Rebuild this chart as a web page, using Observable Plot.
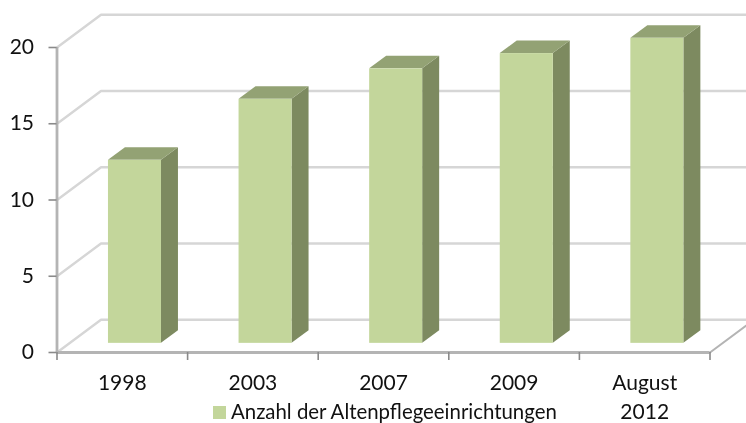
<!DOCTYPE html>
<html><head><meta charset="utf-8">
<script src="https://cdn.jsdelivr.net/npm/d3@7"></script>
<script src="https://cdn.jsdelivr.net/npm/@observablehq/plot@0.6"></script>
<style>
html,body{margin:0;padding:0;background:#fff;overflow:hidden}
#wrap{position:relative;width:746px;height:423px;font-family:Lato,sans-serif}
#wrap svg{display:block;filter:blur(0.45px)}
#legend{position:absolute;left:213px;top:400px;display:flex;align-items:center;font-size:20.4px;color:#111;line-height:22px;white-space:nowrap;filter:blur(0.3px)}
#legend i{display:inline-block;width:13px;height:13px;background:#c3d69b;margin-right:5px;position:relative;top:1px}
</style></head><body>
<div id="wrap"><div id="legend"><i></i><span>Anzahl der Altenpflegeeinrichtungen</span></div></div>
<script>
const categories = ["1998", "2003", "2007", "2009", "August\n2012"];
const values = [12, 16, 18, 19, 20];
const yTicks = [0, 5, 10, 15, 20];

// projection of the 3-D look, expressed in scale units
const wallX = 0.337, wallY = 2.15;      // depth of the floor
const barL = 0.394, barR = 0.80;        // front face within a category band
const sideX = 0.13, sideY = 0.83;       // depth of a bar
const liftY = 0.6;                      // front of a bar above the axis line

const bars = categories.map((c, i) => ({c, i, v: values[i]}));
const gridPts = yTicks.flatMap(v => [
  {v, x: 0, y: v},
  {v, x: wallX, y: v + wallY},
  {v, x: categories.length + wallX, y: v + wallY}
]);
const floorEdge = [{x: categories.length, y: 0}, {x: categories.length + wallX, y: wallY}];

const sidePts = bars.flatMap(b => [
  {b: b.i, x: b.i + barR, y1: liftY, y2: b.v + liftY},
  {b: b.i, x: b.i + barR + sideX, y1: liftY + sideY, y2: b.v + liftY + sideY}
]);
const topPts = bars.flatMap(b => [
  {b: b.i, y: b.v + liftY, x1: b.i + barL, x2: b.i + barR},
  {b: b.i, y: b.v + liftY + sideY, x1: b.i + barL + sideX, x2: b.i + barR + sideX}
]);

const chart = Plot.plot({
  width: 746, height: 423,
  marginLeft: 56.5, marginRight: 36.5, marginTop: 47, marginBottom: 71,
  style: {background: "transparent", fontFamily: "Lato, sans-serif"},
  x: {type: "linear", domain: [0, categories.length]},
  y: {type: "linear", domain: [0, 20]},
  marks: [
    Plot.line(gridPts, {x: "x", y: "y", z: "v", stroke: "#d6d6d6", strokeWidth: 2.4}),
    Plot.line(floorEdge, {x: "x", y: "y", stroke: "#b4b4b4", strokeWidth: 2}),
    Plot.ruleX([0], {stroke: "#b4b4b4", strokeWidth: 2.8}),
    Plot.ruleY([0], {stroke: "#b4b4b4", strokeWidth: 2.8}),
    Plot.axisY({ticks: yTicks, tickSize: 8, tickPadding: 15, fontSize: 21, stroke: "#8a8a8a", strokeWidth: 1.6, color: "#111", label: null}),
    Plot.axisX({ticks: d3.range(categories.length + 1), tickSize: 8, tickFormat: () => "", stroke: "#8a8a8a", strokeWidth: 1.6, label: null}),
    Plot.areaY(sidePts, {x: "x", y1: "y1", y2: "y2", z: "b", fill: "#7d8a60", curve: "linear"}),
    Plot.areaX(topPts, {y: "y", x1: "x1", x2: "x2", z: "b", fill: "#93a274", curve: "linear"}),
    Plot.rect(bars, {x1: d => d.i + barL, x2: d => d.i + barR, y1: liftY, y2: d => d.v + liftY, fill: "#c3d69b"}),
    Plot.text(bars, {x: d => d.i + 0.5, y: 0, text: "c", lineAnchor: "top", dy: 18, fontSize: 21, lineHeight: 1.34, fill: "#111"})
  ]
});
document.getElementById("wrap").prepend(chart);
</script>
</body></html>
